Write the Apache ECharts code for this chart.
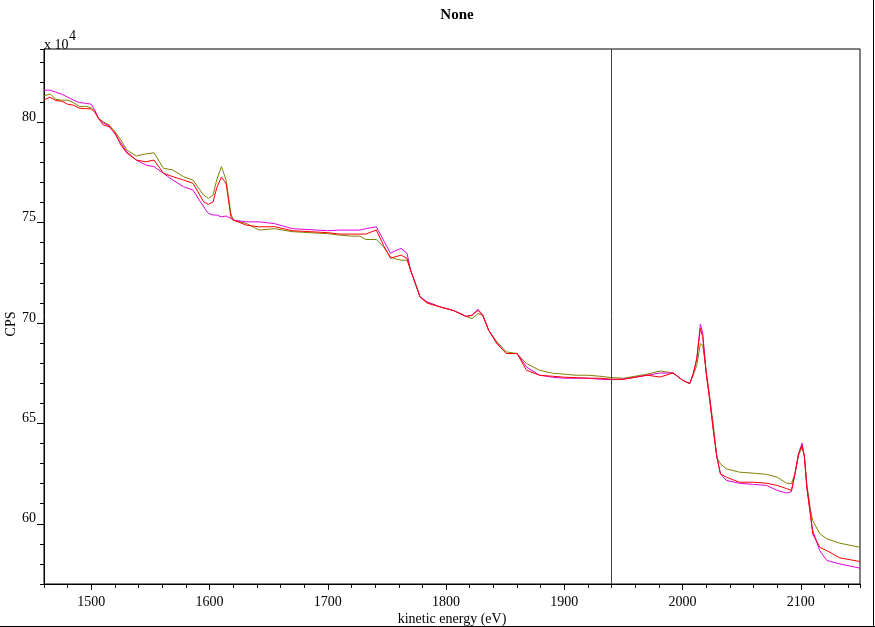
<!DOCTYPE html>
<html>
<head>
<meta charset="utf-8">
<script src="https://cdn.jsdelivr.net/npm/echarts@6/dist/echarts.min.js"></script>
<style>
html,body{margin:0;padding:0;background:#fff;}
#chart{width:875px;height:627px;}
</style>
</head>
<body>
<div id="chart"></div>
<script>
const energies = [1460,1465,1470,1475,1480,1485,1490,1495,1500,1503,1506,1510,1515,1520,1525,1530,1538,1546,1553,1561,1569,1578,1586,1595,1599,1603,1606,1610,1614,1618,1620,1631,1642,1655,1670,1685,1700,1710,1720,1727,1732,1741,1747,1753,1757,1762,1767,1770,1774,1778,1784,1795,1806,1817,1822,1827,1831,1836,1843,1851,1860,1868,1879,1890,1900,1910,1920,1930,1940,1950,1960,1970,1981,1992,2000,2006,2009,2012,2015,2017,2020,2023,2026,2029,2032,2037,2048,2060,2071,2080,2088,2092,2095,2098,2101,2103,2105,2108,2110,2116,2122,2133,2150];
const magenta = [81.60,81.60,81.50,81.40,81.25,81.10,80.98,80.95,80.90,80.60,80.20,79.98,79.82,79.42,78.97,78.53,78.12,77.87,77.79,77.46,77.12,76.79,76.62,75.79,75.46,75.38,75.38,75.29,75.33,75.21,75.13,75.04,75.04,74.95,74.70,74.65,74.60,74.63,74.63,74.63,74.70,74.79,74.13,73.47,73.60,73.72,73.47,72.63,71.97,71.30,71.05,70.80,70.63,70.33,70.39,70.69,70.39,69.64,68.98,68.48,68.48,67.81,67.40,67.30,67.25,67.25,67.25,67.20,67.18,67.20,67.30,67.40,67.51,67.51,67.15,66.98,67.48,68.23,69.94,69.50,67.48,66.15,64.65,63.32,62.49,62.16,62.02,61.96,61.91,61.66,61.53,61.60,62.49,63.49,64.02,63.32,61.83,60.50,59.67,58.66,58.17,58.00,57.79];
const olive = [81.31,81.41,81.15,81.10,81.10,80.98,80.78,80.80,80.72,80.55,80.20,80.03,79.87,79.53,79.12,78.62,78.32,78.42,78.48,77.71,77.62,77.29,77.12,76.37,76.21,76.37,77.12,77.79,77.12,75.46,75.13,74.96,74.63,74.70,74.55,74.50,74.45,74.38,74.33,74.33,74.16,74.16,73.80,73.30,73.20,73.13,73.13,72.63,71.97,71.30,71.05,70.80,70.63,70.33,70.22,70.47,70.39,69.64,69.06,68.56,68.48,67.98,67.65,67.50,67.45,67.40,67.40,67.35,67.28,67.25,67.35,67.45,67.61,67.51,67.15,66.98,67.40,67.90,68.98,68.89,67.60,66.30,64.90,63.30,62.99,62.74,62.57,62.52,62.46,62.32,62.02,62.00,62.49,63.40,63.82,63.40,62.00,60.75,60.16,59.50,59.25,59.03,58.83];
const red = [81.11,81.25,81.08,81.05,80.90,80.85,80.70,80.68,80.66,80.50,80.20,79.87,79.78,79.47,78.87,78.47,78.12,78.03,78.12,77.46,77.29,77.12,76.96,76.04,75.91,76.04,76.72,77.27,76.96,75.29,75.13,74.88,74.79,74.80,74.60,74.55,74.50,74.43,74.43,74.43,74.43,74.63,73.88,73.22,73.30,73.38,73.22,72.63,71.97,71.30,70.99,70.80,70.63,70.33,70.39,70.63,70.39,69.64,68.98,68.48,68.48,67.65,67.40,67.35,67.30,67.28,67.25,67.25,67.20,67.20,67.30,67.40,67.31,67.51,67.15,66.98,67.48,68.23,69.73,69.31,67.48,66.15,64.65,63.32,62.49,62.32,62.07,62.07,62.02,61.91,61.75,61.66,62.49,63.49,63.91,63.32,61.83,60.50,59.50,58.83,58.66,58.30,58.12];
const xMajorTicks = [1500,1600,1700,1800,1900,2000,2100];
const yMajorTicks = [60,65,70,75,80];
const markerEnergy = 1940;

const FONT = '"Liberation Serif", "Times New Roman", serif';
const pairs = arr => energies.map((e, i) => [e, arr[i]]);

const chart = echarts.init(document.getElementById('chart'), null, {renderer: 'canvas'});
const xBase = {type: 'value', min: 1460, max: 2150, position: 'bottom', splitLine: {show: false}};
const yBase = {type: 'value', min: 57, max: 83.65, position: 'left', splitLine: {show: false}};
chart.setOption({
  animation: false,
  backgroundColor: '#fff',
  title: {text: 'None', left: 452, textAlign: 'center', top: 3,
    textStyle: {fontFamily: FONT, fontSize: 15, fontWeight: 'bold', color: '#000'}},
  grid: {left: 44, top: 49, right: 15, bottom: 43, show: true, borderColor: '#000', borderWidth: 1, backgroundColor: 'transparent'},
  xAxis: [
    Object.assign({}, xBase, {interval: 20,
      axisLine: {show: true, lineStyle: {color: '#000', width: 1}},
      axisTick: {show: true, length: 4, lineStyle: {color: '#000'}},
      axisLabel: {show: false}}),
    Object.assign({}, xBase, {interval: 20,
      axisLine: {show: false},
      axisTick: {show: true, length: 6, customValues: xMajorTicks, lineStyle: {color: '#000'}},
      axisLabel: {show: true, customValues: xMajorTicks, margin: 11, fontFamily: FONT, fontSize: 14, color: '#000',
        formatter: v => String(v)}})
  ],
  yAxis: [
    Object.assign({}, yBase, {interval: 1,
      axisLine: {show: true, lineStyle: {color: '#000', width: 1}},
      axisTick: {show: true, length: 4, lineStyle: {color: '#000'}},
      axisLabel: {show: false}}),
    Object.assign({}, yBase, {interval: 1,
      axisLine: {show: false},
      axisTick: {show: true, length: 7, customValues: yMajorTicks, lineStyle: {color: '#000'}},
      axisLabel: {show: true, customValues: yMajorTicks, margin: 8, verticalAlign: 'bottom', lineHeight: 10,
        fontFamily: FONT, fontSize: 14, color: '#000', formatter: v => String(v)}})
  ],
  series: [
    {type: 'line', name: 'olive', data: pairs(olive), showSymbol: false, symbol: 'none',
      lineStyle: {color: '#808000', width: 1}, itemStyle: {color: '#808000'},
      markLine: {silent: true, symbol: 'none', label: {show: false},
        lineStyle: {color: '#404040', width: 1, type: 'solid'}, data: [{xAxis: markerEnergy}]}},
    {type: 'line', name: 'magenta', data: pairs(magenta), showSymbol: false, symbol: 'none',
      lineStyle: {color: '#e000e0', width: 1}, itemStyle: {color: '#e000e0'}},
    {type: 'line', name: 'red', data: pairs(red), showSymbol: false, symbol: 'none',
      lineStyle: {color: '#ff0000', width: 1}, itemStyle: {color: '#ff0000'}}
  ],
  graphic: [
    {type: 'text', x: 44, y: 52, style: {text: 'x 10', fontFamily: FONT, fontSize: 14, fill: '#000',
      align: 'left', verticalAlign: 'bottom'}},
    {type: 'text', x: 69, y: 29, style: {text: '4', fontFamily: FONT, fontSize: 14, fill: '#000',
      align: 'left', verticalAlign: 'top'}},
    {type: 'text', x: 452, y: 619, style: {text: 'kinetic energy (eV)', fontFamily: FONT, fontSize: 14,
      fill: '#000', align: 'center', verticalAlign: 'middle'}},
    {type: 'text', x: 11, y: 324, rotation: Math.PI / 2, style: {text: 'CPS', fontFamily: FONT, fontSize: 14,
      fill: '#000', align: 'center', verticalAlign: 'middle'}},
    {type: 'line', shape: {x1: 873.5, y1: 0, x2: 873.5, y2: 627}, style: {stroke: '#000', lineWidth: 1}},
    {type: 'line', shape: {x1: 0, y1: 626.5, x2: 875, y2: 626.5}, style: {stroke: '#000', lineWidth: 1}}
  ]
});
</script>
</body>
</html>
